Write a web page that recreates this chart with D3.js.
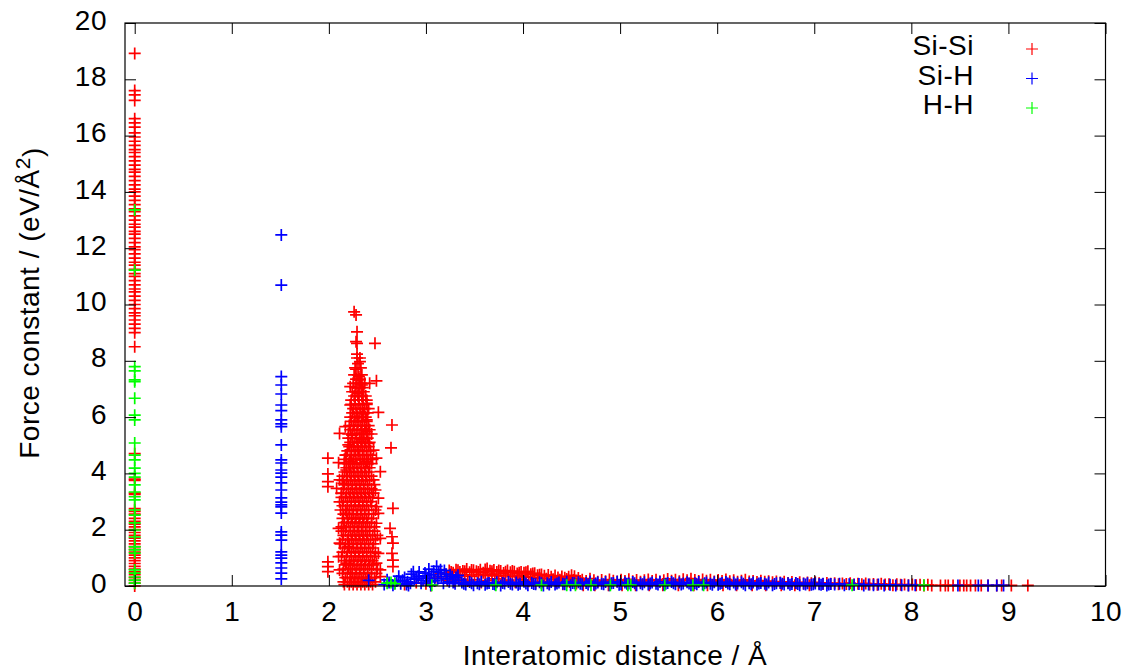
<!DOCTYPE html>
<html>
<head>
<meta charset="utf-8">
<script src="https://cdn.jsdelivr.net/npm/d3@7"></script>
<style>
  body { margin: 0; background: #fff; }
  svg text { font-family: "Liberation Sans", Arial, Helvetica, sans-serif; fill: #000; letter-spacing: 0.5px; }
</style>
</head>
<body>
<div id="chart"></div>
<script>
/* Force constant vs interatomic distance — gnuplot-style scatter of "+" marks */

const X_TICKS = [0, 1, 2, 3, 4, 5, 6, 7, 8, 9, 10];
const Y_TICKS = [0, 2, 4, 6, 8, 10, 12, 14, 16, 18, 20];
const SERIES = ["Si-Si", "Si-H", "H-H"];
const COLORS = ["#ff0000", "#0000ff", "#00ff00"];

// Si-Si self terms (x = 0)
const siSiZero = [18.92, 17.6, 17.45, 17.25, 16.6, 16.45, 16.3, 16.1, 15.95, 15.8, 15.65, 15.5,
  15.4, 15.25, 15.1, 14.95, 14.8, 14.7, 14.55, 14.4, 14.25, 14.1, 14.0, 13.85, 13.7, 13.55, 13.4,
  13.3, 13.15, 13.0, 12.85, 12.75, 12.6, 12.5, 12.35, 12.2, 12.05, 11.95, 11.8, 11.65, 11.5, 11.4,
  11.25, 11.1, 11.0, 10.85, 10.7, 10.55, 10.45, 10.3, 10.15, 10.0, 9.85, 9.7, 9.6, 9.45, 9.3, 9.15,
  9.0, 8.5, 4.7, 3.8, 3.75, 3.3, 3.25, 2.75, 2.65, 2.55, 2.4, 2.3, 2.2, 2.1, 2.0, 1.9, 1.8, 1.7,
  1.6, 1.5, 1.4, 1.3, 1.2, 1.1, 1.0, 0.9, 0.8, 0.7, 0.6, 0.5, 0.4, 0.3, 0.2, 0.1, 0.0];

// Si-Si first-neighbour cluster, outliers [x, y]
const siSiPeak = [[2.26, 9.74], [2.28, 9.63], [2.29, 9.03], [2.28, 8.68], [2.29, 8.62], [2.475, 8.62],
  [2.29, 8.24], [2.32, 7.97], [2.28, 7.70], [2.31, 7.44], [2.32, 7.32], [2.49, 7.29], [2.22, 7.08],
  [2.34, 7.14], [2.42, 7.20], [2.30, 6.85], [2.35, 6.61], [2.22, 6.43], [2.39, 6.49], [2.51, 6.17],
  [2.29, 6.01], [2.35, 6.13], [2.39, 5.90], [2.65, 5.72], [2.17, 5.66], [2.11, 5.42], [2.24, 5.36],
  [2.34, 5.42], [2.39, 5.48], [2.20, 5.01], [2.34, 5.19], [2.41, 5.07], [2.64, 4.91], [1.99, 4.54],
  [2.17, 4.65], [2.30, 4.83], [2.46, 4.83], [2.49, 4.54], [2.10, 4.38], [2.22, 4.41], [2.39, 4.41],
  [1.99, 3.98], [2.18, 4.12], [2.53, 4.06], [1.99, 3.71], [1.99, 3.53], [2.11, 3.77], [2.15, 3.65],
  [2.46, 3.77], [2.66, 2.76], [2.08, 3.47], [2.13, 3.29], [2.48, 3.41], [2.51, 3.12], [2.11, 2.99],
  [2.18, 2.58], [2.49, 2.82], [2.51, 2.58], [2.10, 2.05], [2.15, 2.11], [2.49, 2.23], [2.63, 2.05],
  [2.65, 1.75], [2.66, 1.52], [2.11, 1.52], [2.20, 1.40], [2.53, 1.69], [2.10, 1.04], [2.18, 0.81],
  [2.51, 1.16], [2.49, 0.81], [2.65, 1.16], [2.66, 0.92], [2.66, 0.69], [1.99, 0.86], [1.99, 0.69],
  [1.99, 0.51], [2.11, 0.57], [2.22, 0.45], [2.53, 0.57], [2.53, 0.33]];

// Si-Si cluster core, rows of [y, xs]
const siSiCore = [
  [8.1, [2.29, 2.32]], [7.9, [2.30]],
  [7.75, [2.27, 2.33]], [7.5, [2.26, 2.30, 2.34]], [7.35, [2.28, 2.32]],
  [7.2, [2.25, 2.29, 2.33, 2.37]], [7.05, [2.27, 2.31, 2.35]],
  [6.9, [2.24, 2.28, 2.32, 2.36]], [6.75, [2.26, 2.30, 2.34, 2.38]],
  [6.6, [2.23, 2.27, 2.31, 2.35, 2.39]], [6.45, [2.23, 2.27, 2.31, 2.35, 2.39]],
  [6.3, [2.25, 2.29, 2.33, 2.37, 2.41]], [6.15, [2.24, 2.28, 2.32, 2.36, 2.40]],
  [6.0, [2.22, 2.26, 2.30, 2.34, 2.38]], [5.85, [2.23, 2.27, 2.31, 2.35, 2.39]],
  [5.7, [2.21, 2.25, 2.29, 2.33, 2.37, 2.41]], [5.55, [2.22, 2.26, 2.30, 2.34, 2.38, 2.42]],
  [5.4, [2.20, 2.24, 2.28, 2.32, 2.36, 2.40, 2.44]], [5.25, [2.20, 2.24, 2.28, 2.32, 2.36, 2.40]],
  [5.1, [2.22, 2.26, 2.30, 2.34, 2.38, 2.42]], [4.95, [2.21, 2.25, 2.29, 2.33, 2.37, 2.41]],
  [4.8, [2.19, 2.23, 2.27, 2.31, 2.35, 2.39, 2.43]], [4.65, [2.18, 2.23, 2.27, 2.31, 2.35, 2.39, 2.43]],
  [4.5, [2.16, 2.21, 2.25, 2.29, 2.33, 2.37, 2.41, 2.45]], [4.35, [2.16, 2.20, 2.24, 2.28, 2.32, 2.36, 2.40, 2.44]],
  [4.2, [2.18, 2.22, 2.26, 2.30, 2.34, 2.38, 2.42]], [4.05, [2.16, 2.21, 2.25, 2.29, 2.33, 2.37, 2.41]],
  [3.9, [2.14, 2.19, 2.23, 2.27, 2.31, 2.35, 2.39, 2.44]], [3.75, [2.14, 2.18, 2.22, 2.26, 2.30, 2.34, 2.38, 2.42]],
  [3.6, [2.16, 2.20, 2.24, 2.28, 2.32, 2.36, 2.40, 2.47]], [3.45, [2.15, 2.20, 2.24, 2.28, 2.32, 2.36, 2.40, 2.44]],
  [3.3, [2.13, 2.18, 2.22, 2.26, 2.30, 2.34, 2.38, 2.42, 2.46]], [3.15, [2.13, 2.17, 2.21, 2.25, 2.29, 2.33, 2.37, 2.41, 2.45]],
  [3.0, [2.15, 2.19, 2.23, 2.27, 2.31, 2.35, 2.39, 2.43]], [2.85, [2.14, 2.19, 2.23, 2.27, 2.31, 2.35, 2.39, 2.44]],
  [2.7, [2.12, 2.17, 2.21, 2.25, 2.29, 2.33, 2.37, 2.41, 2.48]], [2.55, [2.15, 2.21, 2.25, 2.29, 2.33, 2.37, 2.41, 2.46]],
  [2.4, [2.14, 2.19, 2.23, 2.27, 2.31, 2.35, 2.39, 2.44]], [2.25, [2.16, 2.20, 2.24, 2.28, 2.32, 2.36, 2.40, 2.44]],
  [2.1, [2.13, 2.18, 2.22, 2.26, 2.30, 2.34, 2.38, 2.42, 2.47]], [1.95, [2.13, 2.17, 2.22, 2.26, 2.30, 2.34, 2.38, 2.42, 2.47]],
  [1.8, [2.15, 2.20, 2.24, 2.28, 2.32, 2.36, 2.40, 2.45, 2.50]], [1.65, [2.14, 2.19, 2.23, 2.27, 2.31, 2.35, 2.39, 2.43, 2.48]],
  [1.5, [2.12, 2.17, 2.21, 2.25, 2.29, 2.33, 2.37, 2.41, 2.46]], [1.35, [2.16, 2.21, 2.25, 2.29, 2.33, 2.37, 2.41, 2.45]],
  [1.2, [2.14, 2.19, 2.23, 2.27, 2.31, 2.35, 2.39, 2.43, 2.48]], [1.05, [2.13, 2.18, 2.23, 2.27, 2.31, 2.35, 2.39, 2.43, 2.47]],
  [0.9, [2.16, 2.21, 2.25, 2.29, 2.33, 2.37, 2.41, 2.45]], [0.75, [2.17, 2.22, 2.26, 2.30, 2.34, 2.38, 2.42, 2.46]],
  [0.6, [2.15, 2.20, 2.24, 2.28, 2.32, 2.36, 2.40, 2.44, 2.50]], [0.45, [2.14, 2.19, 2.24, 2.28, 2.32, 2.36, 2.40, 2.44, 2.49]],
  [0.3, [2.17, 2.22, 2.26, 2.30, 2.34, 2.38, 2.42, 2.47]], [0.15, [2.15, 2.19, 2.23, 2.27, 2.31, 2.35, 2.39, 2.43, 2.48]],
  [0.05, [2.16, 2.21, 2.25, 2.29, 2.33, 2.37, 2.41, 2.45]]
];

// Si-Si long-range tail [x, y]
const siSiTail = [[2.78, .05], [2.90, .12], [3.00, .08], [3.05, .02], [3.10, .30], [3.15, .45],
  [3.20, .42], [3.24, .55], [3.28, .47], [3.31, .58], [3.35, .50], [3.38, .53], [3.42, .60], [3.45, .49],
  [3.49, .56], [3.52, .52], [3.56, .58], [3.59, .47], [3.63, .62], [3.66, .54], [3.70, .57], [3.73, .50],
  [3.77, .53], [3.80, .46], [3.84, .55], [3.87, .49], [3.91, .51], [3.94, .44], [3.98, .50], [4.01, .47],
  [4.05, .52], [4.08, .42], [4.12, .45], [4.15, .38], [4.19, .41], [4.22, .36], [4.26, .39], [4.29, .33],
  [4.33, .37], [4.36, .30], [4.40, .34], [4.43, .29], [4.47, .33], [4.50, .38], [4.53, .35], [4.57, .28],
  [3.26, .50], [3.33, .56], [3.40, .52], [3.47, .57], [3.54, .50], [3.61, .59], [3.68, .52], [3.75, .55],
  [3.82, .51], [3.89, .53], [3.96, .47], [4.03, .49], [4.10, .44], [4.17, .40],
  [3.21, .33], [3.26, .38], [3.33, .36], [3.40, .40], [3.47, .35], [3.54, .41], [3.61, .37], [3.68, .42],
  [3.75, .36], [3.82, .39], [3.89, .34], [3.96, .38], [4.03, .33], [4.10, .31], [4.17, .28], [4.24, .26],
  [4.31, .24], [4.38, .22], [4.45, .25], [4.52, .21], [4.59, .18],
  [3.22, .20], [3.29, .14], [3.36, .24], [3.43, .18], [3.50, .22], [3.57, .12], [3.64, .19], [3.71, .25],
  [3.78, .16], [3.85, .21], [3.92, .13], [3.99, .23], [4.06, .17], [4.13, .10], [4.20, .15], [4.27, .08],
  [4.34, .12], [4.41, .06], [4.48, .14], [4.55, .09],
  [4.61, .22], [4.65, .18], [4.69, .26], [4.73, .20], [4.77, .15], [4.81, .21], [4.85, .17], [4.89, .23],
  [4.93, .19], [4.97, .16], [5.01, .22], [5.05, .18], [5.09, .24], [5.13, .17], [5.17, .21], [5.21, .15],
  [5.25, .20], [5.29, .23], [5.33, .18], [5.37, .22], [5.41, .16], [5.45, .20], [5.49, .25], [5.53, .19],
  [5.57, .22], [5.61, .17], [5.65, .24], [5.69, .20], [5.73, .26], [5.77, .21], [5.81, .18], [5.85, .23],
  [5.89, .19], [5.93, .22], [5.97, .16], [6.01, .21], [6.05, .18], [6.09, .23], [6.13, .17], [6.17, .20],
  [6.21, .15], [6.25, .19], [6.29, .22], [6.33, .16], [6.37, .18], [6.41, .14], [6.45, .19], [6.49, .15],
  [6.53, .17], [6.57, .13], [6.61, .16], [6.65, .12], [6.69, .15], [6.73, .11], [6.77, .14], [6.81, .10],
  [6.85, .13], [6.89, .09], [6.93, .12], [6.97, .10], [7.01, .13],
  [4.62, .03], [4.74, .03], [4.88, .03], [5.02, .03], [5.16, .03], [5.30, .03], [5.44, .03], [5.60, .03],
  [5.76, .03], [5.90, .03], [6.06, .03], [6.20, .03], [6.36, .03], [6.50, .03], [6.66, .03], [6.80, .03],
  [6.95, .03],
  [7.05, .10], [7.09, .07], [7.13, .11], [7.17, .08], [7.21, .10], [7.25, .06], [7.29, .09], [7.33, .07],
  [7.37, .10], [7.41, .05], [7.45, .08], [7.49, .06], [7.53, .09], [7.57, .05], [7.61, .07], [7.65, .04],
  [7.69, .08], [7.73, .05], [7.77, .06], [7.81, .03], [7.85, .06], [7.89, .04], [7.93, .05], [7.97, .03],
  [8.01, .05], [8.05, .03], [8.09, .04], [8.13, .02], [8.17, .04],
  [8.21, .02], [8.30, .02], [8.35, .02], [8.38, .02], [8.43, .02], [8.50, .02], [8.54, .02], [8.57, .02],
  [8.61, .02], [8.66, .02], [8.72, .02], [8.79, .02], [8.88, .02], [8.93, .02], [9.03, .02], [9.20, .02]];

// Si-H bond column (x = 1.51)
const siHBond = [12.47, 10.69, 7.44, 7.14, 6.82, 6.43, 6.23, 5.90, 5.76, 5.66, 5.01, 4.48, 4.37,
  4.12, 4.01, 3.87, 3.66, 3.41, 3.13, 2.98, 2.88, 2.81, 2.59, 1.92, 1.81, 1.63, 1.21, 1.10, 0.99,
  0.82, 0.64, 0.46, 0.25];

// Si-H long-range tail [x, y]
const siHTail = [[2.41, .20], [2.57, .05], [2.62, .12], [2.66, .03], [2.70, .18], [2.74, .08],
  [2.78, .30], [2.81, .15], [2.82, .02], [2.85, .42], [2.87, .51], [2.88, .24], [2.92, .35], [2.95, .10],
  [2.99, .46], [3.02, .28], [3.05, .03], [3.06, .40], [3.09, .18], [3.11, .70], [3.13, .48], [3.16, .33],
  [3.19, .55], [3.22, .25], [3.25, .40], [3.28, .12], [3.31, .30], [3.34, .20],
  [2.60, .22], [2.68, .10], [2.72, .35], [2.76, .20], [2.80, .05], [2.84, .10], [2.90, .28], [2.93, .50],
  [2.97, .20], [3.00, .36], [3.03, .60], [3.04, .15], [3.08, .52], [3.12, .25], [3.15, .58], [3.18, .10],
  [3.21, .42], [3.24, .15], [3.27, .33], [3.30, .08], [3.33, .38],
  [3.37, .12], [3.41, .05], [3.45, .14], [3.49, .03], [3.53, .10], [3.57, .15], [3.61, .04], [3.65, .11],
  [3.69, .07], [3.73, .13], [3.77, .02], [3.81, .09], [3.85, .14], [3.89, .05], [3.93, .12], [3.97, .08],
  [4.01, .15], [4.05, .03], [4.09, .11], [4.13, .06], [4.17, .13], [4.21, .02], [4.25, .10], [4.29, .14],
  [4.33, .05], [4.37, .12], [4.41, .08], [4.45, .15], [4.49, .03], [4.53, .10], [4.57, .13], [4.61, .06],
  [4.65, .11], [4.69, .16], [4.73, .04], [4.77, .12], [4.81, .08], [4.85, .14], [4.89, .03], [4.93, .11],
  [4.97, .15], [5.01, .06], [5.05, .12], [5.09, .09], [5.13, .14], [5.17, .03], [5.21, .10], [5.25, .13],
  [5.29, .05], [5.33, .12], [5.37, .08], [5.41, .15], [5.45, .04], [5.49, .11], [5.53, .14], [5.57, .06],
  [5.61, .12], [5.65, .09], [5.69, .13], [5.73, .03], [5.77, .10], [5.81, .14], [5.85, .05], [5.89, .12],
  [5.93, .08], [5.97, .13], [6.01, .04], [6.05, .11], [6.09, .14], [6.13, .06], [6.17, .12], [6.21, .09],
  [6.25, .13], [6.29, .03], [6.33, .10], [6.37, .12], [6.41, .05], [6.45, .11], [6.49, .08], [6.53, .12],
  [6.57, .03], [6.61, .10], [6.65, .11], [6.69, .05], [6.73, .10], [6.77, .07], [6.81, .11], [6.85, .03],
  [6.89, .08], [6.93, .10], [6.97, .04], [7.01, .09], [7.05, .06], [7.09, .08], [7.13, .02], [7.17, .07],
  [7.21, .05], [7.26, .08], [7.31, .03], [7.36, .06], [7.41, .04], [7.46, .07], [7.51, .02], [7.56, .05],
  [7.61, .03], [7.66, .05], [7.72, .02], [7.78, .04], [7.84, .02], [7.90, .03], [7.97, .02], [8.04, .03],
  [3.39, .08], [3.47, .10], [3.55, .06], [3.63, .09], [3.71, .05], [3.79, .11], [3.87, .08], [3.95, .04],
  [4.03, .09], [4.11, .07], [4.19, .10], [4.27, .05], [4.35, .09], [4.43, .06], [4.51, .11], [4.59, .08],
  [4.67, .05], [4.75, .09], [4.83, .06], [4.91, .10], [4.99, .04], [5.07, .08], [5.15, .10], [5.23, .06],
  [5.31, .09], [5.39, .05], [5.47, .08], [5.55, .10], [5.63, .05], [5.71, .09], [5.79, .06], [5.87, .10],
  [5.95, .04], [6.03, .08], [6.11, .09], [6.19, .05], [6.27, .08], [6.35, .06], [6.43, .09], [6.51, .05],
  [6.59, .07], [6.67, .08], [6.75, .04], [6.83, .07], [6.91, .05], [6.99, .06], [7.07, .04], [7.15, .05],
  [8.48, .02], [8.69, .02], [8.79, .02], [8.88, .02], [8.95, .02]];

// H-H self terms (x = 0) and distant pairs
const hHZero = [13.36, 11.22, 7.79, 7.64, 7.32, 7.26, 6.67, 6.07, 5.90, 5.08, 4.65, 4.48, 4.19,
  4.00, 3.87, 3.59, 3.34, 3.17, 3.06, 2.70, 2.52, 2.24, 1.99, 1.74, 1.39, 1.28, 1.17, 0.57, 0.46,
  0.32, 0.21, 0.10];
const hHTail = [[2.60, .10], [2.64, .12], [2.68, .08], [3.06, .03], [3.72, .03], [4.19, .03],
  [4.45, .03], [4.54, .03], [4.70, .03], [4.90, .03], [5.08, .03], [5.11, .03], [5.46, .03],
  [5.75, .03], [5.86, .03], [7.39, .03], [8.13, .03]];

const WIDTH = 1133, HEIGHT = 670;
const M = { left: 125, right: 27.5, top: 23, bottom: 84 };
const FONT = 28;
const ARM = 6; // half-size of a "+" mark

function plus(sel, color, w) {
  sel.attr("d", `M${-ARM},0H${ARM}M0,${-ARM}V${ARM}`)
    .attr("fill", "none")
    .attr("stroke", color)
    .attr("stroke-width", w);
}

function draw() {
  const svg = d3.select("#chart").append("svg")
    .attr("width", WIDTH).attr("height", HEIGHT);

  const x = d3.scaleLinear().domain([-0.1, 10]).range([M.left, WIDTH - M.right]);
  const y = d3.scaleLinear().domain([0, 20]).range([HEIGHT - M.bottom, M.top]);

  // collect points per series
  const red = siSiZero.map(v => [0, v])
    .concat(siSiCore.flatMap(([yy, xs]) => xs.map(xx => [xx, yy])))
    .concat(siSiPeak, siSiTail);
  const blue = siHBond.map(v => [1.51, v]).concat(siHTail);
  const green = hHZero.map(v => [0, v]).concat(hHTail);

  const plot = svg.append("g");
  [red, blue, green].forEach((pts, i) => {
    plot.append("g").selectAll("path")
      .data(pts)
      .join("path")
      .attr("transform", d => `translate(${x(d[0])},${y(d[1])})`)
      .call(plus, COLORS[i], 1.7);
  });

  // axes with inward ticks, mirrored
  const tick = 11;
  const axes = [
    svg.append("g").attr("transform", `translate(0,${y(0)})`)
      .call(d3.axisBottom(x).tickValues(X_TICKS).tickSize(-tick).tickPadding(15)),
    svg.append("g").attr("transform", `translate(0,${y(20)})`)
      .call(d3.axisTop(x).tickValues(X_TICKS).tickSize(-tick).tickFormat("")),
    svg.append("g").attr("transform", `translate(${x(-0.1)},0)`)
      .call(d3.axisLeft(y).tickValues(Y_TICKS).tickSize(-tick).tickPadding(18)),
    svg.append("g").attr("transform", `translate(${x(10)},0)`)
      .call(d3.axisRight(y).tickValues(Y_TICKS).tickSize(-tick).tickFormat(""))
  ];
  axes.forEach(a => {
    a.select(".domain").remove();
    a.selectAll(".tick line").attr("stroke", "#000").attr("stroke-width", 1);
    a.selectAll("text").attr("font-size", FONT).attr("font-family", null).attr("fill", "#000");
  });
  axes[2].selectAll("text").attr("dy", "0.22em");

  svg.append("rect")
    .attr("x", x(-0.1)).attr("y", y(20))
    .attr("width", x(10) - x(-0.1)).attr("height", y(0) - y(20))
    .attr("fill", "none").attr("stroke", "#000").attr("stroke-width", 1.2);

  // axis titles
  svg.append("text")
    .attr("x", 615).attr("y", 665)
    .attr("text-anchor", "middle").attr("font-size", FONT)
    .text("Interatomic distance / Å");

  const yl = svg.append("text")
    .attr("transform", "translate(39,303) rotate(-90)")
    .attr("text-anchor", "middle").attr("font-size", FONT);
  yl.append("tspan").text("Force constant / (eV/Å");
  yl.append("tspan").attr("dy", "-0.45em").attr("font-size", FONT * 0.75).text("2");
  yl.append("tspan").attr("dy", "0.45em").text(")");

  // legend
  const leg = svg.append("g");
  SERIES.forEach((s, i) => {
    const ly = 49 + i * 29.5;
    leg.append("text")
      .attr("x", 974).attr("y", ly + 6)
      .attr("text-anchor", "end").attr("font-size", FONT)
      .text(s);
    leg.append("path")
      .attr("transform", `translate(1032,${ly})`)
      .call(plus, COLORS[i], 1.2);
  });
}

document.addEventListener("DOMContentLoaded", draw);
</script>
</body>
</html>
